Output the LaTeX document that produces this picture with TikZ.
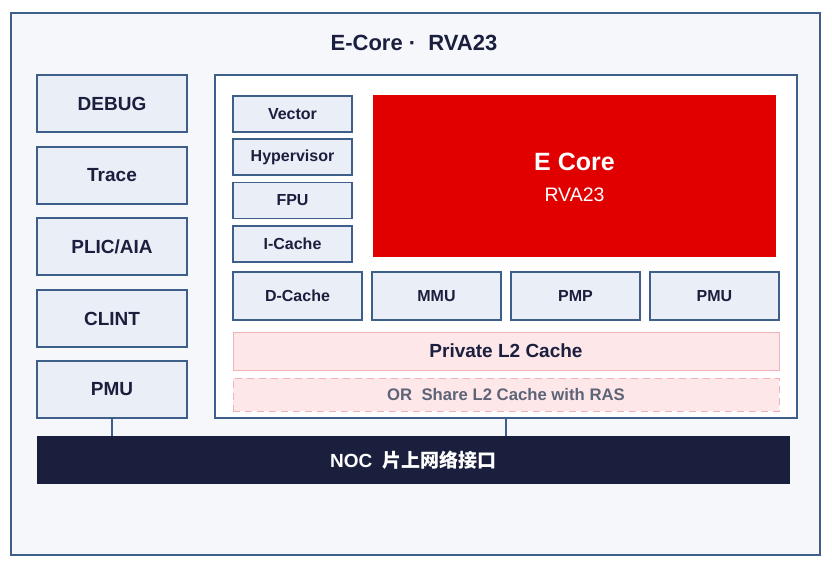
\documentclass[tikz,border=0pt]{standalone}
\usepackage{fontspec}
\setmainfont{Liberation Sans}
\newfontfamily\cjk{Noto Sans CJK SC}
\definecolor{ink}{HTML}{1B1F3E}
\definecolor{edge}{HTML}{3E5F8A}
\definecolor{paper}{HTML}{F5F7FB}
\definecolor{cell}{HTML}{EAEEF7}
\definecolor{corered}{HTML}{E00000}
\definecolor{pinkfill}{HTML}{FDE7E8}
\definecolor{pinkedge}{HTML}{F0B4B8}
\definecolor{greytext}{HTML}{5E6478}
\begin{document}
\begin{tikzpicture}[x=1pt,y=-1pt,
    unit/.style={draw=edge,fill=cell,line width=1.1pt,inner sep=0pt,text=ink,font=\bfseries\fontsize{16}{18}\selectfont},
    leftunit/.style={unit,minimum width=150pt,minimum height=57pt,font=\bfseries\fontsize{19}{22}\selectfont},
    small/.style={unit,minimum width=119pt,minimum height=36pt},
    rowunit/.style={unit,minimum width=129pt,minimum height=48pt},
    cache/.style={fill=pinkfill,draw=pinkedge,line width=1pt,inner sep=0pt,minimum width=546pt}]
  \useasboundingbox (0,0) rectangle (832,572);
  \draw[edge,fill=paper,line width=1.3pt] (11,13) rectangle (820,555);
  \node[text=ink,font=\bfseries\fontsize{22}{26}\selectfont] (title) at (414,43) {E-Core\ ·\ \ RVA23};
  \node[leftunit] (debug) at (112,103.5) {DEBUG};
  \node[leftunit] (trace) at (112,175.5) {Trace};
  \node[leftunit] (plic) at (112,246.5) {PLIC/AIA};
  \node[leftunit] (clint) at (112,318.5) {CLINT};
  \node[leftunit] (pmuleft) at (112,389.5) {PMU};
  \node[draw=edge,fill=white,line width=1.1pt,inner sep=0pt,minimum width=582pt,minimum height=343pt] (core) at (506,246.5) {};
  \node[small] (vector) at (292.5,114) {Vector};
  \node[small] (hyper) at (292.5,157) {Hypervisor};
  \node[small] (fpu) at (292.5,200.5) {FPU};
  \node[small] (icache) at (292.5,244) {I-Cache};
  \node[fill=corered,inner sep=0pt,minimum width=403pt,minimum height=162pt] (ecore) at (574.5,176) {};
  \node[text=white,font=\bfseries\fontsize{25}{28}\selectfont] (ecorename) at (574.5,162) {E Core};
  \node[text=white,font=\fontsize{19.5}{22}\selectfont] (ecoreisa) at (574.5,195) {RVA23};
  \node[rowunit] (dcache) at (297.5,296) {D-Cache};
  \node[rowunit] (mmu) at (436.5,296) {MMU};
  \node[rowunit] (pmp) at (575.5,296) {PMP};
  \node[rowunit] (pmucore) at (714.5,296) {PMU};
  \node[cache,minimum height=38pt,text=ink,font=\bfseries\fontsize{19}{22}\selectfont] (l2) at (506,351) {Private L2 Cache};
  \node[cache,dash pattern=on 7pt off 5pt,minimum height=33pt,text=greytext,font=\bfseries\fontsize{16.7}{19}\selectfont] (shared) at (506,394.5) {OR\ \ Share L2 Cache with RAS};
  \node[fill=ink,inner sep=0pt,minimum width=753pt,minimum height=48pt,text=white,font=\bfseries\fontsize{19}{22}\selectfont] (noc) at (413.5,460) {NOC\ \ {\cjk 片上网络接口}};
  \draw[edge,line width=1.1pt] (pmuleft.south) -- (noc.north -| pmuleft.south);
  \draw[edge,line width=1.1pt] (core.south) -- (noc.north -| core.south);
\end{tikzpicture}
\end{document}
